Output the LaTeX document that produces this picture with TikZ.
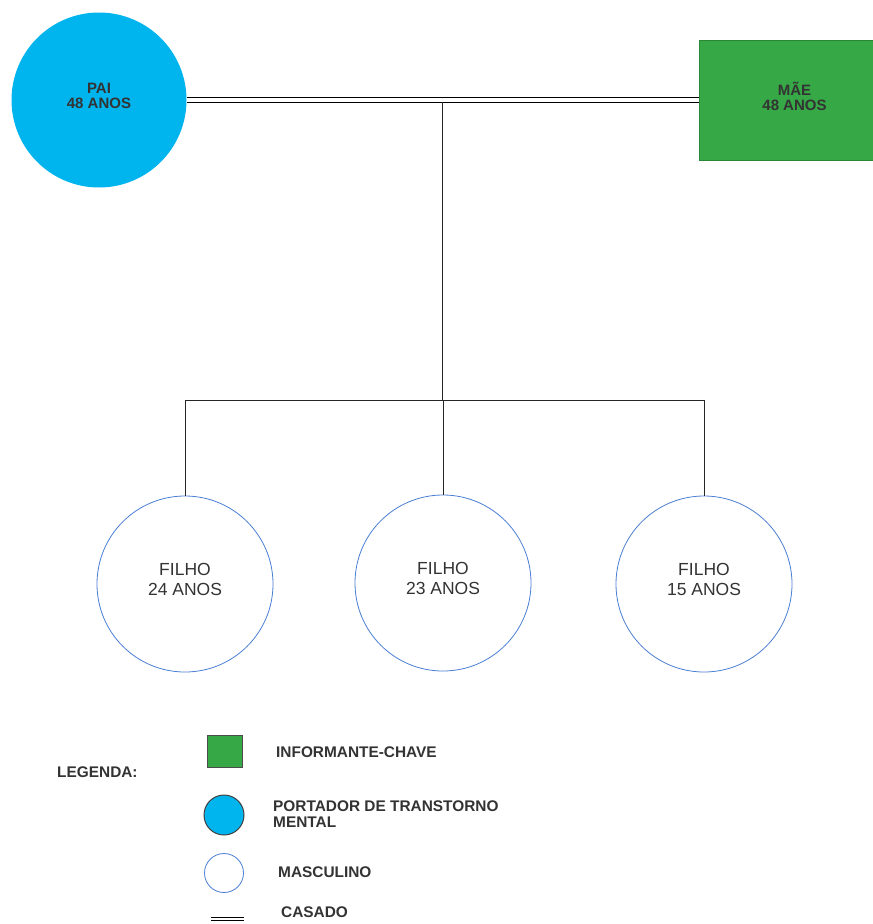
\documentclass[tikz,border=0pt]{standalone}
\usepackage{fontspec}
\usetikzlibrary{calc}
\setmainfont{Liberation Sans}
\definecolor{paiblue}{HTML}{00B4EE}
\definecolor{maegreen}{HTML}{36A846}
\definecolor{kidblue}{HTML}{4A7FD4}
\definecolor{txt}{HTML}{333333}
\begin{document}
\begin{tikzpicture}[x=1pt,y=-1pt,
  every node/.style={inner sep=0pt, text=txt},
  paicircle/.style={circle, fill=paiblue, minimum size=175pt},
  maebox/.style={rectangle, fill=maegreen, draw=maegreen!80!black, line width=0.4pt,
    minimum width=191pt, minimum height=120pt},
  toptxt/.style={align=center, font=\bfseries\fontsize{15}{15}\selectfont, yshift=4pt},
  kid/.style={circle, draw=kidblue, line width=0.8pt, minimum size=176pt},
  kidtxt/.style={align=center, font=\fontsize{17.5}{20}\selectfont, yshift=5pt},
  marriage/.style={double, double distance=4pt, line width=0.8pt, draw=black},
  link/.style={line width=1pt, draw=black!85},
  legtxt/.style={anchor=west, align=left, font=\bfseries\fontsize{15.4}{16}\selectfont}]
\clip (0,0) rectangle (873,924);
\fill[white] (0,0) rectangle (873,924);
% parents
\node[paicircle] (pai) at (99,100) {};
\node[toptxt] (paitxt) at (pai) {PAI\\48 ANOS};
\node[maebox] (mae) at (794.5,100) {};
\node[toptxt] (maetxt) at (mae) {MÃE\\48 ANOS};
\draw[marriage] (pai.east) -- (mae.west);
\coordinate (m) at ($(pai.east)!0.5!(mae.west)$);
% children
\node[kid] (k1) at (185,584) {};
\node[kid] (k2) at (443,583) {};
\node[kid] (k3) at (704,584) {};
\node[kidtxt] (t1) at (k1) {FILHO\\24 ANOS};
\node[kidtxt] (t2) at (k2) {FILHO\\23 ANOS};
\node[kidtxt] (t3) at (k3) {FILHO\\15 ANOS};
\coordinate (bar) at (0,400);
\draw[link] ([yshift=-2.4pt]m) -- (m |- bar);
\draw[link] (k1.north) -- (k1.north |- bar) -- (k3.north |- bar) -- (k3.north);
\draw[link] (k2.north) -- (k2.north |- bar);
% legend
\node[legtxt] (leg) at (57,772) {LEGENDA:};
\node[rectangle, fill=maegreen, draw=black!70, line width=0.8pt, minimum width=35pt, minimum height=32pt] (lsq) at (225,751.5) {};
\node[legtxt] (lsqt) at (276,752) {INFORMANTE-CHAVE};
\node[circle, fill=paiblue, draw=black!75, line width=1pt, minimum size=40pt] (lcb) at (224,815) {};
\node[legtxt] (lcbt) at (273,814) {PORTADOR DE TRANSTORNO\\MENTAL};
\node[circle, draw=kidblue, line width=0.8pt, minimum size=39pt] (lcw) at (224,873) {};
\node[legtxt] (lcwt) at (278,872) {MASCULINO};
\coordinate (ca1) at (211,919);
\coordinate (ca2) at (244,919);
\draw[double, double distance=2.6pt, line width=0.8pt] (ca1) -- (ca2);
\node[legtxt] (cat) at (281,912) {CASADO};
\end{tikzpicture}
\end{document}
